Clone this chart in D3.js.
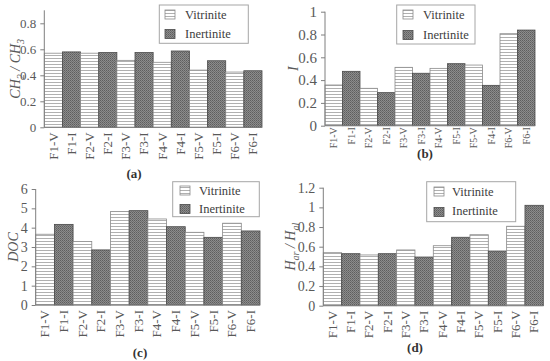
<!DOCTYPE html>
<html>
<head>
<meta charset="utf-8">
<script src="https://cdn.jsdelivr.net/npm/d3@7/dist/d3.min.js"></script>
<style>
  body { margin: 0; background: #fff; }
</style>
</head>
<body>
<div id="chart"></div>
<script>
// ---- data ----
const labelsStd = ["F1-V", "F1-I", "F2-V", "F2-I", "F3-V", "F3-I", "F4-V", "F4-I", "F5-V", "F5-I", "F6-V", "F6-I"];
const labelsB = ["F1-V", "F1-I", "F2-V", "F2-I", "F3-V", "F3-I", "F4-V", "F5-I", "F5-V", "F4-I", "F6-V", "F6-I"];

const valuesA = [0.57, 0.58, 0.57, 0.575, 0.515, 0.575, 0.50, 0.587, 0.44, 0.512, 0.425, 0.435];
const valuesB = [0.357, 0.477, 0.328, 0.29, 0.512, 0.46, 0.503, 0.544, 0.532, 0.354, 0.807, 0.839];
const valuesC = [3.66, 4.17, 3.28, 2.85, 4.83, 4.88, 4.45, 4.05, 3.76, 3.50, 4.23, 3.83];
const valuesD = [0.539, 0.529, 0.516, 0.529, 0.567, 0.495, 0.61, 0.696, 0.722, 0.556, 0.808, 1.021];

const ticksA = [0, 0.2, 0.4, 0.6, 0.8];
const ticksB = [0, 0.2, 0.4, 0.6, 0.8, 1];
const ticksC = [0, 1, 2, 3, 4, 5, 6];
const ticksD = [0, 0.2, 0.4, 0.6, 0.8, 1, 1.2];

const seriesNames = ["Vitrinite", "Inertinite"];

const FONT = "'Liberation Serif', 'Times New Roman', serif";

const svg = d3.select("#chart").append("svg")
  .attr("width", 550)
  .attr("height", 361)
  .style("font-family", FONT);

// fill patterns
const defs = svg.append("defs");
const pv = defs.append("pattern").attr("id", "vit")
  .attr("patternUnits", "userSpaceOnUse").attr("width", 4).attr("height", 3);
pv.append("rect").attr("width", 4).attr("height", 3).attr("fill", "#fff");
pv.append("rect").attr("y", 1).attr("width", 4).attr("height", 1).attr("fill", "#b0b0b0");

const pi = defs.append("pattern").attr("id", "ine")
  .attr("patternUnits", "userSpaceOnUse").attr("width", 2).attr("height", 2);
pi.append("rect").attr("width", 2).attr("height", 2).attr("fill", "#8c8c8c");
pi.append("rect").attr("width", 1).attr("height", 1).attr("fill", "#5e5e5e");
pi.append("rect").attr("x", 1).attr("y", 1).attr("width", 1).attr("height", 1).attr("fill", "#6e6e6e");

function fillFor(lab) { return lab.endsWith("-V") ? "url(#vit)" : "url(#ine)"; }
function strokeFor(lab) { return lab.endsWith("-V") ? "#8a8a8a" : "#4a4a4a"; }

const panels = [
  { labels: labelsStd, values: valuesA, ticks: ticksA, max: 0.9,
    x0: 44.3, x1: 262, yTop: 10.3, yBot: 127.3, yFont: 13, xFont: 13, xPad: 5,
    ylab: [["CH", 0], ["2", 1], [" / CH", 0], ["3", 1]], ylabX: 15,
    legend: { x: 159.3, y: 5, w: 89, h: 38.3, sx: 165, sy: [10, 29.5], tx: 185, ty: [18.5, 38] },
    cap: "(a)", capX: 134, capY: 178 },
  { labels: labelsB, values: valuesB, ticks: ticksB, max: 1,
    x0: 325, x1: 535, yTop: 11.7, yBot: 125.7, yFont: 15, xFont: 10, xPad: 1.5,
    ylab: [["I", 0]], ylabX: 293,
    legend: { x: 396.7, y: 5, w: 78.3, h: 39, sx: 403, sy: [10, 30.5], tx: 423, ty: [19, 38.5] },
    cap: "(b)", capX: 425, capY: 157.5 },
  { labels: labelsStd, values: valuesC, ticks: ticksC, max: 6,
    x0: 35.7, x1: 260, yTop: 189, yBot: 305, yFont: 14, xFont: 13, xPad: 5,
    ylab: [["DOC", 0]], ylabX: 13,
    legend: { x: 172.7, y: 181.7, w: 86.6, h: 35, sx: 180, sy: [186, 204.5], tx: 199, ty: [195, 213] },
    cap: "(c)", capX: 140, capY: 357 },
  { labels: labelsStd, values: valuesD, ticks: ticksD, max: 1.2,
    x0: 323.3, x1: 543.3, yTop: 187.7, yBot: 305.7, yFont: 14, xFont: 13, xPad: 5,
    ylab: [["H", 0], ["ar", 1], [" / H", 0], ["al", 1]], ylabX: 290,
    legend: { x: 426.7, y: 181.7, w: 89, h: 40, sx: 434, sy: [187, 207.5], tx: 452, ty: [195.5, 215] },
    cap: "(d)", capX: 415, capY: 352 }
];

panels.forEach(p => {
  const g = svg.append("g");

  const x = d3.scaleBand()
    .domain(p.labels)
    .range([p.x0, p.x1])
    .padding(0);

  const y = d3.scaleLinear()
    .domain([0, p.max])
    .range([p.yBot, p.yTop]);

  // bars
  g.selectAll("rect.bar")
    .data(p.labels.map((l, i) => ({ lab: l, v: p.values[i] })))
    .enter()
    .append("rect")
    .attr("class", "bar")
    .attr("x", d => x(d.lab))
    .attr("y", d => y(d.v))
    .attr("width", x.bandwidth())
    .attr("height", d => p.yBot - y(d.v))
    .attr("fill", d => fillFor(d.lab))
    .attr("stroke", d => strokeFor(d.lab))
    .attr("stroke-width", 0.8);

  // y axis
  const ya = g.append("g")
    .attr("transform", "translate(" + p.x0 + ",0)")
    .call(d3.axisLeft(y).tickValues(p.ticks).tickSize(4).tickPadding(4).tickFormat(d3.format("")));
  ya.attr("font-family", null).attr("font-size", null);
  ya.select(".domain").attr("stroke", "#7f7f7f").attr("d", "M0," + p.yBot + "V" + p.yTop);
  ya.selectAll(".tick line").attr("stroke", "#7f7f7f");
  ya.selectAll(".tick text")
    .style("font-family", FONT)
    .style("font-size", p.yFont + "px")
    .attr("fill", "#595959");

  // x axis
  const xa = g.append("g")
    .attr("transform", "translate(0," + p.yBot + ")")
    .call(d3.axisBottom(x).tickSize(0).tickPadding(0));
  xa.attr("font-family", null).attr("font-size", null);
  xa.select(".domain").attr("stroke", "#7f7f7f").attr("d", "M" + p.x0 + ",0H" + p.x1);
  xa.selectAll(".tick text")
    .attr("transform", "rotate(-90)")
    .attr("x", -p.xPad)
    .attr("y", 0)
    .attr("dy", "0.33em")
    .style("text-anchor", "end")
    .style("font-family", FONT)
    .style("font-size", p.xFont + "px")
    .attr("fill", "#595959");

  // y label (subscripts via dy shifts)
  const yl = g.append("text")
    .attr("transform", "translate(" + p.ylabX + "," + ((p.yTop + p.yBot) / 2) + ") rotate(-90)")
    .attr("text-anchor", "middle")
    .attr("dy", "0.35em")
    .style("font-family", FONT)
    .style("font-size", "14px")
    .style("font-style", "italic")
    .attr("fill", "#595959");
  let prevSub = 0;
  p.ylab.forEach(([t, sub]) => {
    const ts = yl.append("tspan").text(t);
    const shift = (sub ? 4 : 0) - (prevSub ? 4 : 0);
    if (shift !== 0) ts.attr("dy", shift);
    if (sub) ts.style("font-size", "10px");
    prevSub = sub;
  });

  // legend
  const L = p.legend;
  const lg = g.append("g");
  lg.append("rect")
    .attr("x", L.x).attr("y", L.y).attr("width", L.w).attr("height", L.h)
    .attr("fill", "#fff").attr("stroke", "#a6a6a6").attr("stroke-width", 1);
  seriesNames.forEach((name, i) => {
    lg.append("rect")
      .attr("x", L.sx).attr("y", L.sy[i]).attr("width", 10).attr("height", 9)
      .attr("fill", i === 0 ? "url(#vit)" : "url(#ine)")
      .attr("stroke", i === 0 ? "#8a8a8a" : "#4a4a4a").attr("stroke-width", 0.8);
    lg.append("text")
      .attr("x", L.tx).attr("y", L.ty[i])
      .style("font-family", FONT)
      .style("font-size", "12.5px")
      .attr("fill", "#404040")
      .text(name);
  });

  // caption
  g.append("text")
    .attr("x", p.capX).attr("y", p.capY)
    .attr("text-anchor", "middle")
    .style("font-family", FONT)
    .style("font-size", "13px")
    .style("font-weight", "bold")
    .attr("fill", "#333")
    .text(p.cap);
});
</script>
</body>
</html>
